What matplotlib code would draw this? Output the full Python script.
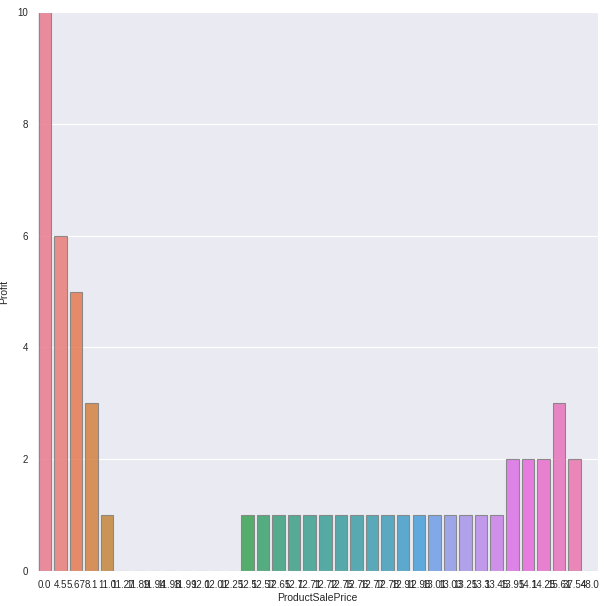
import matplotlib
matplotlib.use("Agg")
import matplotlib.pyplot as plt
import seaborn as sns
import pandas as pd

prices = ["0.0", "4.5", "5.67", "8.1", "11.0", "11.27", "11.89", "11.94", "11.98",
          "11.99", "12.0", "12.01", "12.25", "12.5", "12.57", "12.65", "12.7", "12.71",
          "12.72", "12.75", "12.76", "12.77", "12.78", "12.91", "12.98", "13.01", "13.03",
          "13.25", "13.3", "13.45", "13.95", "14.1", "14.25", "15.61", "37.54", "48.0"]
profit = [10, 6, 5, 3, 1, 0, 0, 0, 0,
          0, 0, 0, 0, 1, 1, 1, 1, 1,
          1, 1, 1, 1, 1, 1, 1, 1, 1,
          1, 1, 1, 2, 2, 2, 3, 2, 0]

sns.set_style("darkgrid")
plt.rcParams["font.family"] = ["Liberation Sans", "DejaVu Sans"]

df = pd.DataFrame({"ProductSalePrice": prices, "Profit": profit})

fig = plt.figure(figsize=(6.06, 6.06), dpi=100)
ax = fig.add_axes([37/606, 35/606, 561/606, 559/606])
colors = sns.color_palette("husl", len(prices))
sns.barplot(data=df, x="ProductSalePrice", y="Profit", hue="ProductSalePrice",
            palette=colors, saturation=0.8, legend=False, ax=ax, alpha=0.88,
            edgecolor="0.5", linewidth=0.8, order=prices, hue_order=prices)
ax.set_ylim(0, 10)
ax.set_xlim(-0.5, len(prices) - 0.5)
ax.set_yticks([0, 2, 4, 6, 8, 10])
ax.tick_params(axis="both", labelsize=7, pad=3)
ax.set_xlabel("ProductSalePrice", fontsize=7.5, labelpad=2)
ax.set_ylabel("Profit", fontsize=7.5, labelpad=6)
ax.xaxis.grid(False)
fig.savefig("out.png", dpi=100)
